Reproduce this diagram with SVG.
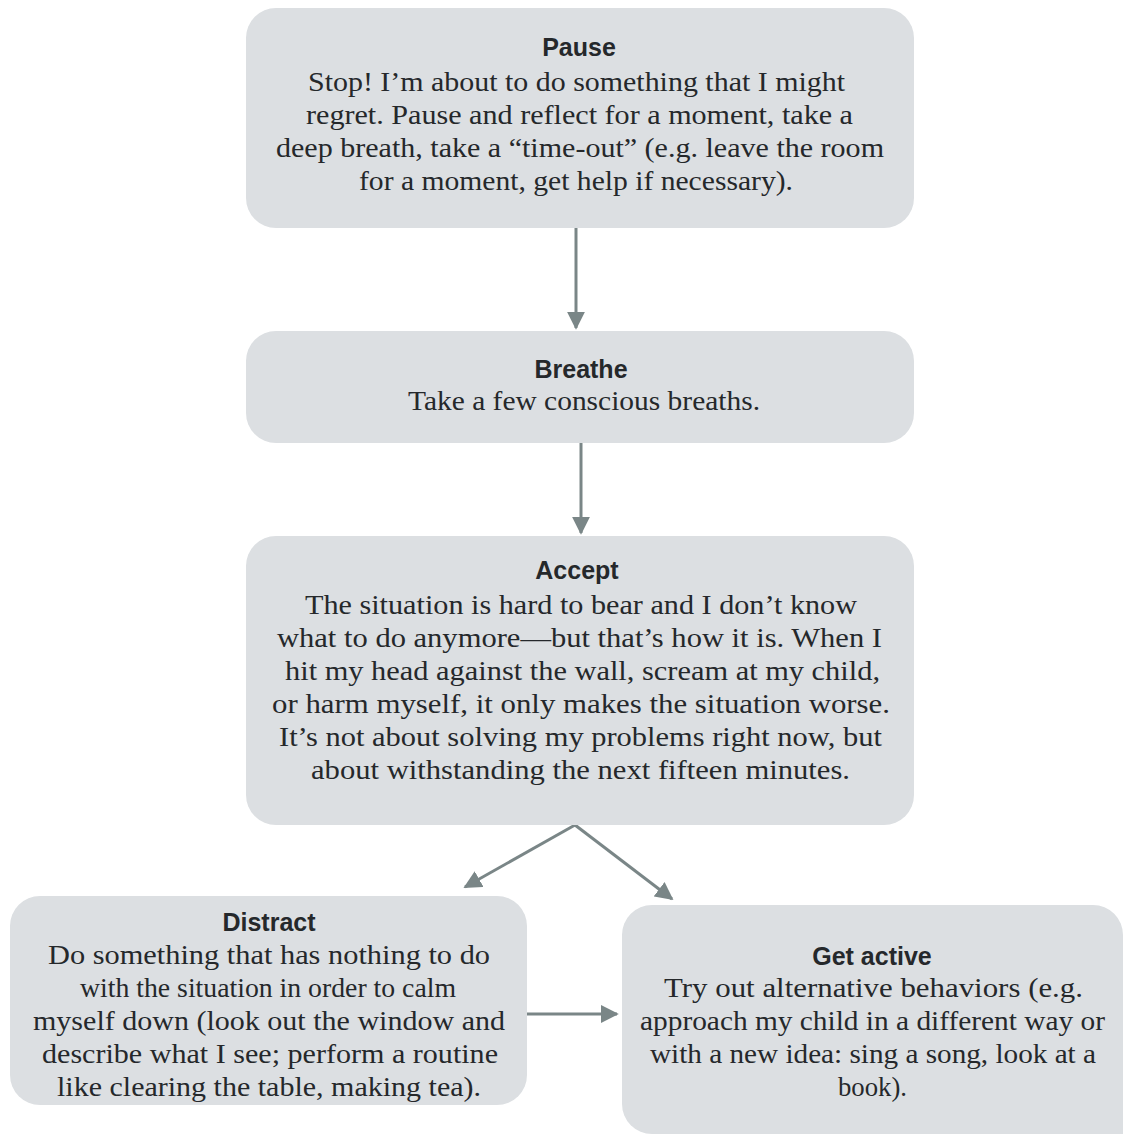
<svg xmlns="http://www.w3.org/2000/svg" width="1125" height="1134" viewBox="0 0 1125 1134">
<style>
.box{fill:#dcdfe2}
.t{font-family:"Liberation Sans",Arial,sans-serif;font-weight:bold;font-size:25px;fill:#25282b;text-anchor:middle}
.b{font-family:"Liberation Serif","Times New Roman",serif;font-size:28px;fill:#25282b;text-anchor:middle}
.c{stroke:#7a8687;stroke-width:3;fill:none}
</style>
<defs>
<marker id="ah" viewBox="0 0 10 10" refX="9" refY="5" markerWidth="6" markerHeight="6" orient="auto" markerUnits="strokeWidth">
<path d="M0,0 L10,5 L0,10 Z" fill="#7a8687"/>
</marker>
</defs>
<rect width="1125" height="1134" fill="#ffffff"/>
<g id="connectors">
<line class="c" x1="576" y1="228" x2="576" y2="328" marker-end="url(#ah)"/>
<line class="c" x1="581" y1="443" x2="581" y2="533" marker-end="url(#ah)"/>
<line class="c" x1="575" y1="825" x2="465" y2="887" marker-end="url(#ah)"/>
<line class="c" x1="575" y1="825" x2="672" y2="899" marker-end="url(#ah)"/>
<line class="c" x1="527" y1="1014" x2="617" y2="1014" marker-end="url(#ah)"/>
</g>
<g id="pause">
<rect class="box" x="246" y="8" width="668" height="220" rx="30"/>
<text class="t" x="579" y="56">Pause</text>
<text class="b" x="576.5" y="91" textLength="537" lengthAdjust="spacingAndGlyphs">Stop! I’m about to do something that I might</text>
<text class="b" x="579.5" y="124" textLength="547" lengthAdjust="spacingAndGlyphs">regret. Pause and reflect for a moment, take a</text>
<text class="b" x="580" y="157" textLength="608" lengthAdjust="spacingAndGlyphs">deep breath, take a “time-out” (e.g. leave the room</text>
<text class="b" x="576" y="190" textLength="434" lengthAdjust="spacingAndGlyphs">for a moment, get help if necessary).</text>
</g>
<g id="breathe">
<rect class="box" x="246" y="331" width="668" height="112" rx="30"/>
<text class="t" x="581" y="378">Breathe</text>
<text class="b" x="584" y="410" textLength="352" lengthAdjust="spacingAndGlyphs">Take a few conscious breaths.</text>
</g>
<g id="accept">
<rect class="box" x="246" y="536" width="668" height="289" rx="30"/>
<text class="t" x="577" y="579">Accept</text>
<text class="b" x="581" y="614" textLength="552" lengthAdjust="spacingAndGlyphs">The situation is hard to bear and I don’t know</text>
<text class="b" x="579.5" y="647" textLength="605" lengthAdjust="spacingAndGlyphs">what to do anymore—but that’s how it is. When I</text>
<text class="b" x="582.5" y="680" textLength="595" lengthAdjust="spacingAndGlyphs">hit my head against the wall, scream at my child,</text>
<text class="b" x="581" y="713" textLength="618" lengthAdjust="spacingAndGlyphs">or harm myself, it only makes the situation worse.</text>
<text class="b" x="580.5" y="746" textLength="603" lengthAdjust="spacingAndGlyphs">It’s not about solving my problems right now, but</text>
<text class="b" x="580.5" y="779" textLength="539" lengthAdjust="spacingAndGlyphs">about withstanding the next fifteen minutes.</text>
</g>
<g id="distract">
<rect class="box" x="10" y="896" width="517" height="209" rx="30"/>
<text class="t" x="269" y="931">Distract</text>
<text class="b" x="269" y="964" textLength="442" lengthAdjust="spacingAndGlyphs">Do something that has nothing to do</text>
<text class="b" x="268" y="997" textLength="376" lengthAdjust="spacingAndGlyphs">with the situation in order to calm</text>
<text class="b" x="269" y="1030" textLength="472" lengthAdjust="spacingAndGlyphs">myself down (look out the window and</text>
<text class="b" x="270" y="1063" textLength="456" lengthAdjust="spacingAndGlyphs">describe what I see; perform a routine</text>
<text class="b" x="269" y="1096" textLength="424" lengthAdjust="spacingAndGlyphs">like clearing the table, making tea).</text>
</g>
<g id="getactive">
<path class="box" d="M652,905 H1093 A30,30 0 0 1 1123,935 V1134 H652 A30,30 0 0 1 622,1104 V935 A30,30 0 0 1 652,905 Z"/>
<text class="t" x="872" y="965">Get active</text>
<text class="b" x="873.5" y="997" textLength="419" lengthAdjust="spacingAndGlyphs">Try out alternative behaviors (e.g.</text>
<text class="b" x="872.5" y="1030" textLength="465" lengthAdjust="spacingAndGlyphs">approach my child in a different way or</text>
<text class="b" x="873" y="1063" textLength="446" lengthAdjust="spacingAndGlyphs">with a new idea: sing a song, look at a</text>
<text class="b" x="872.5" y="1096" textLength="69" lengthAdjust="spacingAndGlyphs">book).</text>
</g>
</svg>
